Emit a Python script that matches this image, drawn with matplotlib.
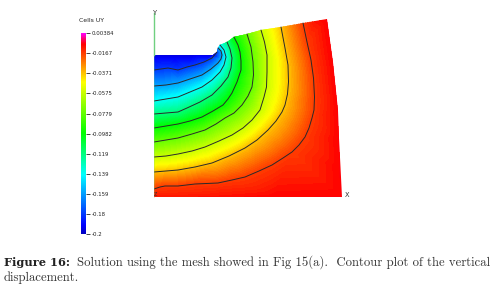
import numpy as np
import matplotlib
matplotlib.use('Agg')
import matplotlib.pyplot as plt
from matplotlib.colors import LinearSegmentedColormap, Normalize
from matplotlib.cm import ScalarMappable
from matplotlib.patches import Polygon
from matplotlib.tri import Triangulation

# colorbar
vmin = -0.2
vmax = 0.00384
tick_values = [0.00384, -0.0167, -0.0371, -0.0575, -0.0779, -0.0982, -0.119, -0.139, -0.159, -0.18, -0.2]
tick_labels = ['0.00384', '-0.0167', '-0.0371', '-0.0575', '-0.0779', '-0.0982', '-0.119', '-0.139', '-0.159', '-0.18', '-0.2']
cmap_values = [-0.2, -0.191, -0.14, -0.0976, -0.0459, -0.0073, -0.0033, 0.00384]
cmap_colors = ['#0000c0', '#0000ff', '#00ffff', '#00ff00', '#ffff00', '#ff0000', '#ff0050', '#ff00ff']

# contour lines: (x, y) in mesh units
levels = [-0.0167, -0.0371, -0.0575, -0.0779, -0.0982, -0.119, -0.139, -0.159, -0.18]
line_0167 = [(0, 8), (6, 10), (11, 11), (24, 11), (41, 13), (64, 14), (78, 17), (91, 20), (105, 26), (118, 32), (129, 39), (138, 45),
             (145, 52), (151, 60), (155, 69), (158, 79), (160, 87), (160.5, 100), (159.5, 119), (157, 137), (153, 155), (149, 174)]
line_0371 = [(0, 25), (12, 26), (24, 27), (41, 30), (58, 34), (75, 41), (91, 49), (103, 57), (114, 67), (122, 76), (128, 85), (131, 92),
             (133.5, 103), (134.5, 115), (134, 132), (131, 149), (127, 170)]
line_0575 = [(0, 40), (12, 41), (24, 43), (38, 46), (51, 50), (65, 56), (78, 62), (89, 69), (98, 77), (106, 87), (110, 100), (112.5, 110),
             (113, 125), (113, 142), (110.5, 155), (107, 167)]
line_0779 = [(0, 55), (12, 57), (24, 59), (38, 63), (51, 67), (62, 73), (71, 79), (80, 84), (88, 92), (94, 101), (98, 110), (99.5, 122),
             (99, 135), (97, 150), (93, 163)]
line_0982 = [(0, 69), (12, 71), (24, 73), (36, 76), (48, 80), (59, 86), (69, 92), (74, 98), (78, 104), (83, 115), (87, 127), (87, 136),
             (86, 145), (84, 152), (80, 160)]
line_119 = [(0, 83), (12, 84), (24, 85), (33, 89), (46, 95), (58, 102), (67, 111), (74, 120), (77, 129), (78, 139), (76, 148), (73, 155)]
line_139 = [(0, 96), (12, 98), (24, 100), (36, 105), (48, 110), (58, 117), (66, 125), (70, 132), (72, 140), (70, 147), (66, 152)]
line_159 = [(0, 111), (12, 112), (24, 114), (36, 118), (48, 122), (57, 128), (64, 134), (67, 138), (68, 142), (67, 146), (64, 149)]
line_18 = [(0, 127), (7, 128), (14, 129), (24, 127), (33, 130), (41, 132), (50, 135), (58, 139), (63, 145)]
contour_lines = [line_0167, line_0371, line_0575, line_0779, line_0982, line_119, line_139, line_159, line_18]

# outline of the deformed mesh, going round from the origin
boundary = [(0, 0), (60, 0), (120, 0), (188, 0), (186.5, 30), (185, 59), (184, 87), (179, 135), (173, 178), (161, 176), (149, 174), (127, 170),
            (107, 167), (93, 163), (80, 160), (73, 155), (66, 152), (64, 149), (63, 145), (59, 142), (40, 142), (20, 142), (0, 142)]
# field values at the outline points that carry no contour line
boundary_values = [-0.011, -0.010, -0.008, -0.0075, -0.0075, -0.0075, -0.0075, -0.0075, -0.0075, -0.010, None, None,
                   None, None, None, None, None, None, None, -0.195, -0.195, -0.195, -0.195]

fig = plt.figure(figsize=(4.96, 2.89), dpi=100)
W, H = 496.0, 289.0

cmap = LinearSegmentedColormap.from_list(
    'uy', [((v - vmin) / (vmax - vmin), c) for v, c in zip(cmap_values, cmap_colors)], N=512)
norm = Normalize(vmin, vmax)

# main plot, origin of the mesh sits at pixel (154, 197)
ax = fig.add_axes([154 / W, (H - 197) / H, 200 / W, 190 / H])
ax.set_xlim(0, 200)
ax.set_ylim(0, 190)
ax.axis('off')

xs, ys, zs = [], [], []
for lev, line in zip(levels, contour_lines):
    for p in line:
        xs.append(p[0])
        ys.append(p[1])
        zs.append(lev)
for p, v in zip(boundary, boundary_values):
    if v is not None:
        xs.append(p[0])
        ys.append(p[1])
        zs.append(v)

tri = Triangulation(xs, ys)
outline = Polygon(boundary, closed=True, transform=ax.transData, facecolor='none', edgecolor='none')
ax.add_patch(outline)
cs = ax.tricontourf(tri, zs, levels=np.linspace(vmin, vmax, 160), cmap=cmap, norm=norm, antialiased=False)
cs.set_clip_path(outline)

for line in contour_lines:
    pts = np.array(line)
    ax.plot(pts[:, 0], pts[:, 1], color='#2a2a2a', lw=0.7, solid_capstyle='round', solid_joinstyle='round')

ax.plot([0, 0], [142, 184], color='#70d080', lw=1.0, clip_on=False)
ax.plot([0, 0], [0, 142], color='#70d080', lw=0.5, alpha=0.4, clip_on=False)
ax.text(1, 184, 'Y', fontsize=4.8, ha='center', va='center', color='#333333')
ax.text(193, 2, 'X', fontsize=4.8, ha='center', va='center', color='#333333')
ax.text(1, 2, 'Z', fontsize=3.5, ha='center', va='center', color='#333333')

# colorbar on the left
cax = fig.add_axes([81 / W, (H - 234) / H, 5 / W, 201 / H])
cb = fig.colorbar(ScalarMappable(norm=norm, cmap=cmap), cax=cax, ticks=tick_values)
cb.set_ticklabels(tick_labels)
cb.outline.set_visible(False)
cax.tick_params(length=3.2, width=0.6, pad=1.2, labelsize=3.9, colors='#222222')
fig.text(79 / W, 1 - 21 / H, 'Cells UY', fontsize=4.4, ha='left', va='center', color='#222222')

# caption
fig.text(4 / W, 1 - 262 / H, 'Figure 16:', family='DejaVu Serif', weight='bold', fontsize=8.2, ha='left', va='center', color='#222222')
fig.text(77 / W, 1 - 262 / H, 'Solution using the mesh showed in Fig 15(a).  Contour plot of the vertical',
         family='cmr10', fontsize=9.15, ha='left', va='center', color='#333333')
fig.text(4 / W, 1 - 278 / H, 'displacement.', family='cmr10', fontsize=9.15, ha='left', va='center', color='#333333')

fig.savefig('out.png', dpi=100)
